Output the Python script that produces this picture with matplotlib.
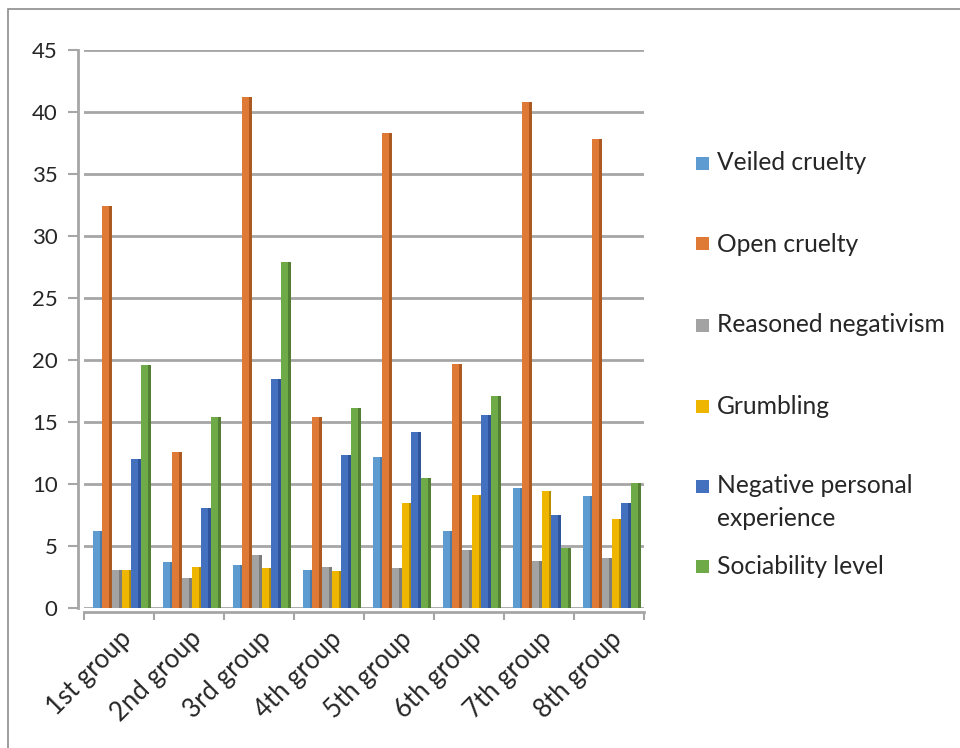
import matplotlib
matplotlib.use("Agg")
import matplotlib.pyplot as plt
from matplotlib.patches import Rectangle
import numpy as np

plt.rcParams['font.family'] = ['Lato', 'DejaVu Sans']

groups = ["1st group", "2nd group", "3rd group", "4th group",
          "5th group", "6th group", "7th group", "8th group"]
series_names = ["Veiled cruelty", "Open cruelty", "Reasoned negativism",
                "Grumbling", "Negative personal experience", "Sociability level"]
veiled = [6.2, 3.7, 3.5, 3.1, 12.2, 6.2, 9.7, 9.0]
open_cruelty = [32.4, 12.6, 41.2, 15.4, 38.3, 19.7, 40.8, 37.8]
reasoned = [3.1, 2.4, 4.3, 3.3, 3.2, 4.7, 3.8, 4.0]
grumbling = [3.1, 3.3, 3.2, 3.0, 8.5, 9.1, 9.4, 7.2]
negative = [12.0, 8.1, 18.5, 12.3, 14.2, 15.6, 7.5, 8.5]
sociability = [19.6, 15.4, 27.9, 16.1, 10.5, 17.1, 4.8, 10.1]
yticks = [0, 5, 10, 15, 20, 25, 30, 35, 40, 45]

series = [veiled, open_cruelty, reasoned, grumbling, negative, sociability]
colors = ["#5E9BD1", "#DF7A36", "#A3A3A3", "#EEB600", "#4470C0", "#6EAA48"]
sides = ["#4a7cab", "#ad5a22", "#7c7c7c", "#b88c00", "#30549a", "#527f33"]

W, H = 960, 748
fig = plt.figure(figsize=(W/100, H/100), dpi=100)

# outer chart border
fig.patches.append(Rectangle((8/W, -0.05), 1, 1.05 - 9/H, transform=fig.transFigure,
                             fill=False, edgecolor="#8c8c8c", linewidth=1.2))

left, right, bottom, top = 84, 644, 608, 50
ax = fig.add_axes([left/W, (H-bottom)/H, (right-left)/W, (bottom-top)/H])

x = np.arange(len(groups))
bw = 0.138
sw = 0.04
for k, (vals, c, sc) in enumerate(zip(series, colors, sides)):
    pos = x - 3*bw + bw/2 + k*bw + 0.04
    ax.bar(pos, vals, width=bw, color=c, edgecolor='none', zorder=3)
    ax.bar(pos + bw/2 - sw/2, vals, width=sw, color=sc, edgecolor='none', zorder=4)

ax.set_xlim(-0.5, len(groups) - 0.5)
ax.set_ylim(0, 45)
ax.set_yticks(yticks)
ax.set_yticklabels([str(t) for t in yticks])
ax.yaxis.grid(True, color="#a6a6a6", linewidth=2, zorder=0)
ax.set_axisbelow(True)

for s in ["top", "right"]:
    ax.spines[s].set_visible(False)
ax.spines["left"].set_position(("outward", 4))
ax.spines["bottom"].set_position(("outward", 3))
for s in ["left", "bottom"]:
    ax.spines[s].set_color("#a6a6a6")
    ax.spines[s].set_linewidth(2)

ax.tick_params(axis='y', length=7, width=1.5, color="#a6a6a6", pad=8,
               labelsize=16, labelcolor="#262626")
ax.set_xticks(np.arange(-0.5, len(groups)), minor=True)
ax.set_xticks(x)
ax.tick_params(axis='x', which='minor', length=6, width=1.5, color="#a6a6a6")
ax.tick_params(axis='x', which='major', length=0, pad=10,
               labelsize=18.5, labelcolor="#262626")
ax.set_xticklabels(groups, rotation=45, ha='right', va='top',
                   rotation_mode='anchor')

# legend (manual, Excel style)
legend_y = [163, 244, 325, 406, 502, 566]
for name, c, yy in zip(series_names, colors, legend_y):
    label = "Negative personal\nexperience" if name.startswith("Negative") else name
    sq_y = yy if not name.startswith("Negative") else 486
    fig.patches.append(Rectangle((696/W, (H - sq_y - 6.5)/H), 13/W, 13/H,
                                 transform=fig.transFigure, facecolor=c,
                                 edgecolor='none'))
    fig.text(717/W, (H - yy)/H, label, fontsize=17.7, color="#262626",
             va='center', ha='left', linespacing=1.5)

fig.savefig("out.png", dpi=100)
